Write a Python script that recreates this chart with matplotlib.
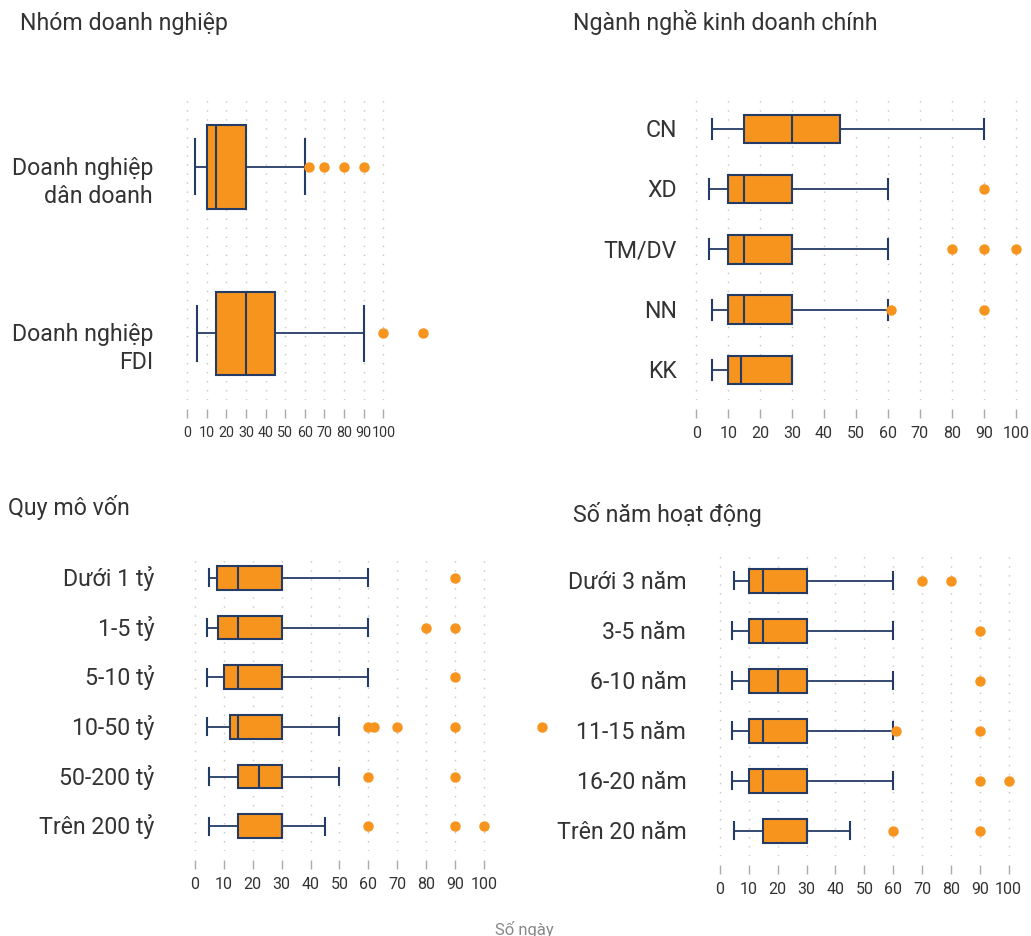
import matplotlib
matplotlib.use("Agg")
import matplotlib.pyplot as plt

plt.rcParams["font.family"] = ["Roboto", "DejaVu Sans"]

ORANGE = "#F7941D"
NAVY = "#243B66"
TEXT = "#333333"
GRID = "#c4c4c4"

# --- Nhóm doanh nghiệp
firm_labels = ["Doanh nghiệp\ndân doanh", "Doanh nghiệp\nFDI"]
firm_whislo = [4, 5]
firm_q1 = [10, 15]
firm_med = [15, 30]
firm_q3 = [30, 45]
firm_whishi = [60, 90]
firm_fliers = [[62, 70, 80, 90], [100, 120]]

# --- Ngành nghề kinh doanh chính
sector_labels = ["CN", "XD", "TM/DV", "NN", "KK"]
sector_whislo = [5, 4, 4, 5, 5]
sector_q1 = [15, 10, 10, 10, 10]
sector_med = [30, 15, 15, 15, 14]
sector_q3 = [45, 30, 30, 30, 30]
sector_whishi = [90, 60, 60, 60, 30]
sector_fliers = [[], [90], [80, 90, 100], [61, 90], []]

# --- Quy mô vốn
capital_labels = ["Dưới 1 tỷ", "1-5 tỷ", "5-10 tỷ", "10-50 tỷ", "50-200 tỷ", "Trên 200 tỷ"]
capital_whislo = [5, 4, 4, 4, 5, 5]
capital_q1 = [7.5, 8, 10, 12, 15, 15]
capital_med = [15, 15, 15, 15, 22, 30]
capital_q3 = [30, 30, 30, 30, 30, 30]
capital_whishi = [60, 60, 60, 50, 50, 45]
capital_fliers = [[90], [80, 90], [90], [60, 62, 70, 90, 120], [60, 90], [60, 90, 100]]

# --- Số năm hoạt động
age_labels = ["Dưới 3 năm", "3-5 năm", "6-10 năm", "11-15 năm", "16-20 năm", "Trên 20 năm"]
age_whislo = [5, 4, 4, 4, 4, 5]
age_q1 = [10, 10, 10, 10, 10, 15]
age_med = [15, 15, 20, 15, 15, 30]
age_q3 = [30, 30, 30, 30, 30, 30]
age_whishi = [60, 60, 60, 60, 60, 45]
age_fliers = [[70, 80], [90], [90], [61, 90], [90, 100], [60, 90]]

TICKS = list(range(0, 101, 10))

W, H = 1031, 936
fig = plt.figure(figsize=(W / 100, H / 100), dpi=100)


def px_axes(left, top, right, bottom):
    return fig.add_axes([left / W, 1 - bottom / H, (right - left) / W, (bottom - top) / H])


def panel(ax, labels, whislo, q1, med, q3, whishi, fliers, xlim, ylim,
          width, capw, label_pad, ticksize=11.5):
    stats = []
    for i in range(len(labels)):
        stats.append(dict(whislo=whislo[i], q1=q1[i], med=med[i], q3=q3[i],
                          whishi=whishi[i], fliers=fliers[i]))
    ax.bxp(stats, positions=range(len(labels)), widths=width, capwidths=capw,
           orientation="horizontal", patch_artist=True, manage_ticks=False,
           boxprops=dict(facecolor=ORANGE, edgecolor=NAVY, linewidth=1.5),
           medianprops=dict(color=NAVY, linewidth=1.5),
           whiskerprops=dict(color=NAVY, linewidth=1.3),
           capprops=dict(color=NAVY, linewidth=1.5),
           flierprops=dict(marker="o", markerfacecolor=ORANGE,
                           markeredgecolor=ORANGE, markersize=6.5))
    ax.set_xlim(*xlim)
    ax.set_ylim(*ylim)
    ax.set_xticks(TICKS)
    ax.set_yticks([])
    ax.set_axisbelow(True)
    ax.xaxis.grid(True, color=GRID, linewidth=1, linestyle=(0, (1, 5.5)))
    for s in ax.spines.values():
        s.set_visible(False)
    ax.spines["bottom"].set_position(("outward", 6.5))
    ax.tick_params(axis="x", length=6.5, width=1, color="#aaaaaa", pad=6,
                   labelsize=ticksize, labelcolor=TEXT)
    ax.patch.set_alpha(0)
    for i, lab in enumerate(labels):
        for k, line in enumerate(lab.split("\n")):
            ax.annotate(line, xy=(0, i), xycoords=ax.get_yaxis_transform(),
                        xytext=(-label_pad, -5.8 - 20 * k), textcoords="offset points",
                        ha="right", va="baseline", fontsize=16.7, color=TEXT)


ax1 = px_axes(177.2, 97, 432.4, 400)
panel(ax1, firm_labels, firm_whislo, firm_q1, firm_med, firm_q3, firm_whishi,
      firm_fliers, (-5, 125), (1.4, -0.42), 0.5, 0.33, 17.5, ticksize=10.3)

ax2 = px_axes(686.7, 97, 1022.1, 400)
panel(ax2, sector_labels, sector_whislo, sector_q1, sector_med, sector_q3,
      sector_whishi, sector_fliers, (-3, 102), (4.5, -0.53), 0.47, 0.33, 7)

ax3 = px_axes(183.4, 553, 556.3, 851)
panel(ax3, capital_labels, capital_whislo, capital_q1, capital_med, capital_q3,
      capital_whishi, capital_fliers, (-4, 125), (5.5, -0.5), 0.48, 0.34, 21)

ax4 = px_axes(708.5, 553, 1020.2, 856)
panel(ax4, age_labels, age_whislo, age_q1, age_med, age_q3, age_whishi,
      age_fliers, (-4, 104), (5.5, -0.55), 0.48, 0.34, 16)

# panel titles and footer
fig.text(20 / W, 1 - 30 / H, "Nhóm doanh nghiệp", fontsize=16.7, color=TEXT, va="baseline")
fig.text(573 / W, 1 - 30 / H, "Ngành nghề kinh doanh chính", fontsize=16.7, color=TEXT, va="baseline")
fig.text(8 / W, 1 - 515 / H, "Quy mô vốn", fontsize=16.7, color=TEXT, va="baseline")
fig.text(573 / W, 1 - 522 / H, "Số năm hoạt động", fontsize=16.7, color=TEXT, va="baseline")
fig.text(524 / W, 1 - 935 / H, "Số ngày", fontsize=12, color="#888888",
         ha="center", va="baseline")

fig.savefig("out.png", dpi=100)
